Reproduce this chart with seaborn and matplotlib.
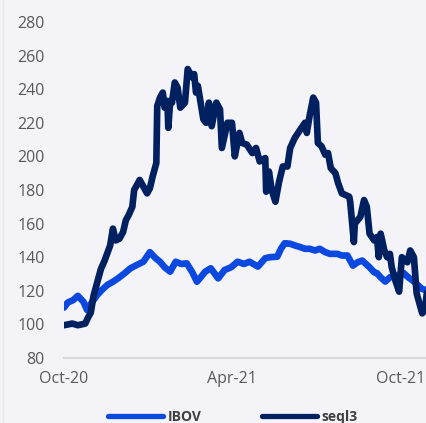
import matplotlib
matplotlib.use("Agg")
import matplotlib.pyplot as plt
import pandas as pd
import seaborn as sns
from matplotlib.lines import Line2D

# ---------------- data ----------------
ibov_dates = [
    "2020-10-01", "2020-10-05", "2020-10-11", "2020-10-16", "2020-10-22", "2020-10-26",
    "2020-10-31", "2020-11-06", "2020-11-11", "2020-11-17", "2020-11-23", "2020-11-29",
    "2020-12-06", "2020-12-12", "2020-12-19", "2020-12-26", "2021-01-02", "2021-01-08",
    "2021-01-13", "2021-01-18", "2021-01-24", "2021-01-30", "2021-02-05", "2021-02-11",
    "2021-02-17", "2021-02-22", "2021-02-26", "2021-03-03", "2021-03-09", "2021-03-17",
    "2021-03-24", "2021-03-31", "2021-04-07", "2021-04-14", "2021-04-20", "2021-04-29",
    "2021-05-07", "2021-05-12", "2021-05-20", "2021-05-24", "2021-05-28", "2021-06-03",
    "2021-06-08", "2021-06-14", "2021-06-19", "2021-06-24", "2021-06-30", "2021-07-05",
    "2021-07-11", "2021-07-16", "2021-07-24", "2021-07-29", "2021-08-04", "2021-08-10",
    "2021-08-15", "2021-08-20", "2021-08-24", "2021-08-28", "2021-09-02", "2021-09-05",
    "2021-09-09", "2021-09-14", "2021-09-19", "2021-09-25", "2021-09-30", "2021-10-04",
    "2021-10-09", "2021-10-14", "2021-10-19", "2021-10-24", "2021-10-29",
]
ibov_values = [
    110, 113, 114.5, 117, 113.5, 108.6,
    113, 117.5, 120.5, 123.5, 125.4, 127.6,
    130.6, 133.4, 135.4, 137.3, 143, 139.5,
    137.3, 134, 131.4, 137.3, 136, 136.3,
    131, 125.4, 128, 131.4, 133.4, 127.4,
    132.4, 134, 137.3, 136, 137.3, 134.4,
    139.4, 140, 140.3, 145, 148.3, 148,
    147, 146, 145, 145, 144, 145,
    143, 142, 142, 141, 141, 135,
    137, 138, 136, 134, 131, 130.5,
    128, 125.5, 128, 129, 129.5, 130.5,
    128, 126, 123.5, 121, 120.5,
]

seql3_dates = [
    "2020-10-01", "2020-10-10", "2020-10-16", "2020-10-24", "2020-10-27", "2020-10-30",
    "2020-11-02", "2020-11-06", "2020-11-10", "2020-11-14", "2020-11-20", "2020-11-23",
    "2020-11-26", "2020-11-30", "2020-12-04", "2020-12-07", "2020-12-10", "2020-12-14",
    "2020-12-16", "2020-12-22", "2020-12-30", "2021-01-02", "2021-01-05", "2021-01-09",
    "2021-01-10", "2021-01-13", "2021-01-16", "2021-01-18", "2021-01-21", "2021-01-22",
    "2021-01-24", "2021-01-26", "2021-01-29", "2021-02-01", "2021-02-04", "2021-02-09",
    "2021-02-12", "2021-02-17", "2021-02-19", "2021-02-21", "2021-02-23", "2021-03-01",
    "2021-03-04", "2021-03-07", "2021-03-10", "2021-03-15", "2021-03-19", "2021-03-21",
    "2021-03-27", "2021-04-01", "2021-04-04", "2021-04-09", "2021-04-12", "2021-04-17",
    "2021-04-23", "2021-04-27", "2021-05-01", "2021-05-07", "2021-05-08", "2021-05-11",
    "2021-05-14", "2021-05-18", "2021-05-22", "2021-05-26", "2021-05-31", "2021-06-03",
    "2021-06-08", "2021-06-14", "2021-06-19", "2021-06-21", "2021-06-24", "2021-06-28",
    "2021-07-01", "2021-07-03", "2021-07-07", "2021-07-11", "2021-07-14", "2021-07-17",
    "2021-07-22", "2021-07-25", "2021-07-29", "2021-08-06", "2021-08-07", "2021-08-11",
    "2021-08-12", "2021-08-18", "2021-08-22", "2021-08-25", "2021-08-28", "2021-09-02",
    "2021-09-05", "2021-09-07", "2021-09-09", "2021-09-13", "2021-09-16", "2021-09-19",
    "2021-09-21", "2021-09-25", "2021-09-29", "2021-10-02", "2021-10-08", "2021-10-11",
    "2021-10-15", "2021-10-18", "2021-10-22", "2021-10-24", "2021-10-27", "2021-10-29",
]
seql3_values = [
    99.5, 100.5, 99.5, 100.5, 104, 107,
    117, 125, 133, 138, 147, 157,
    150, 151, 155, 162, 165, 170,
    180, 186, 178, 181, 188, 196,
    230, 235, 238, 229, 233, 217,
    233, 232, 244, 241, 229, 232,
    252, 247, 249, 238, 242, 222,
    220, 232, 218, 232, 228, 205,
    220, 220, 200, 214, 208, 207,
    202, 205, 197, 199, 179, 191,
    180, 173, 185, 194, 194, 205,
    211, 216, 220, 214, 224, 235,
    232, 208, 206, 201, 202, 193,
    190, 184, 178, 176, 173, 149,
    160, 164, 174, 170, 154, 150,
    152, 140, 154, 144, 140, 142,
    134, 126, 119.5, 140, 137, 144,
    140, 118.5, 110.5, 106.6, 108.6, 118.7,
]

series_names = ["IBOV", "seql3"]
series_colors = ["#0A48E0", "#00205F"]
y_ticks = [80, 100, 120, 140, 160, 180, 200, 220, 240, 260, 280]
x_tick_dates = ["2020-10-01", "2021-04-01", "2021-10-01"]
x_tick_labels = ["Oct-20", "Apr-21", "Oct-21"]

# ---------------- style ----------------
BG = "#F4F4F8"
sns.set_style("white")
plt.rcParams["font.family"] = ["Open Sans", "DejaVu Sans"]

df = pd.concat([
    pd.DataFrame({"date": pd.to_datetime(ibov_dates), "value": ibov_values, "series": series_names[0]}),
    pd.DataFrame({"date": pd.to_datetime(seql3_dates), "value": seql3_values, "series": series_names[1]}),
], ignore_index=True)

fig = plt.figure(figsize=(4.27, 4.23), dpi=100, facecolor=BG)
ax = fig.add_axes([64 / 427, 65 / 423, 378.5 / 427, 336 / 423])
ax.set_facecolor(BG)

sns.lineplot(
    data=df, x="date", y="value", hue="series",
    palette=dict(zip(series_names, series_colors)),
    hue_order=series_names, estimator=None, sort=False,
    linewidth=4.8, ax=ax, legend=False,
    solid_joinstyle="round", solid_capstyle="round",
)

ax.set_xlim(pd.Timestamp("2020-10-01"), pd.Timestamp("2021-11-15"))
ax.set_ylim(80, 280)
ax.set_yticks(y_ticks)
ax.set_xticks(pd.to_datetime(x_tick_dates))
ax.set_xticklabels(x_tick_labels)
ax.set_xlabel("")
ax.set_ylabel("")
ax.grid(False)

for s in ["top", "right", "left"]:
    ax.spines[s].set_visible(False)
ax.spines["bottom"].set_color("#D9D9D9")
ax.spines["bottom"].set_linewidth(1.5)

ax.tick_params(axis="y", length=0, pad=13.7, labelsize=11.5, labelcolor="#595959")
ax.tick_params(axis="x", length=3.6, width=1.5, color="#D9D9D9", pad=6,
               labelsize=11.5, labelcolor="#595959")

handles = [Line2D([], [], color=c, lw=3.8, solid_capstyle="round") for c in series_colors]
fig.legend(handles=handles, labels=series_names, ncol=2, loc="center left",
           bbox_to_anchor=(108 / 427, 6 / 423), frameon=False,
           handlelength=3.96, handletextpad=0.36, columnspacing=4.3,
           prop={"weight": "bold", "size": 10}, labelcolor="#404040",
           borderpad=0, borderaxespad=0)

fig.add_artist(Line2D([3 / 427, 3 / 427], [0, 1], transform=fig.transFigure,
                      color="#E6E6EC", lw=1))

fig.savefig("out.png", dpi=100, facecolor=BG)
